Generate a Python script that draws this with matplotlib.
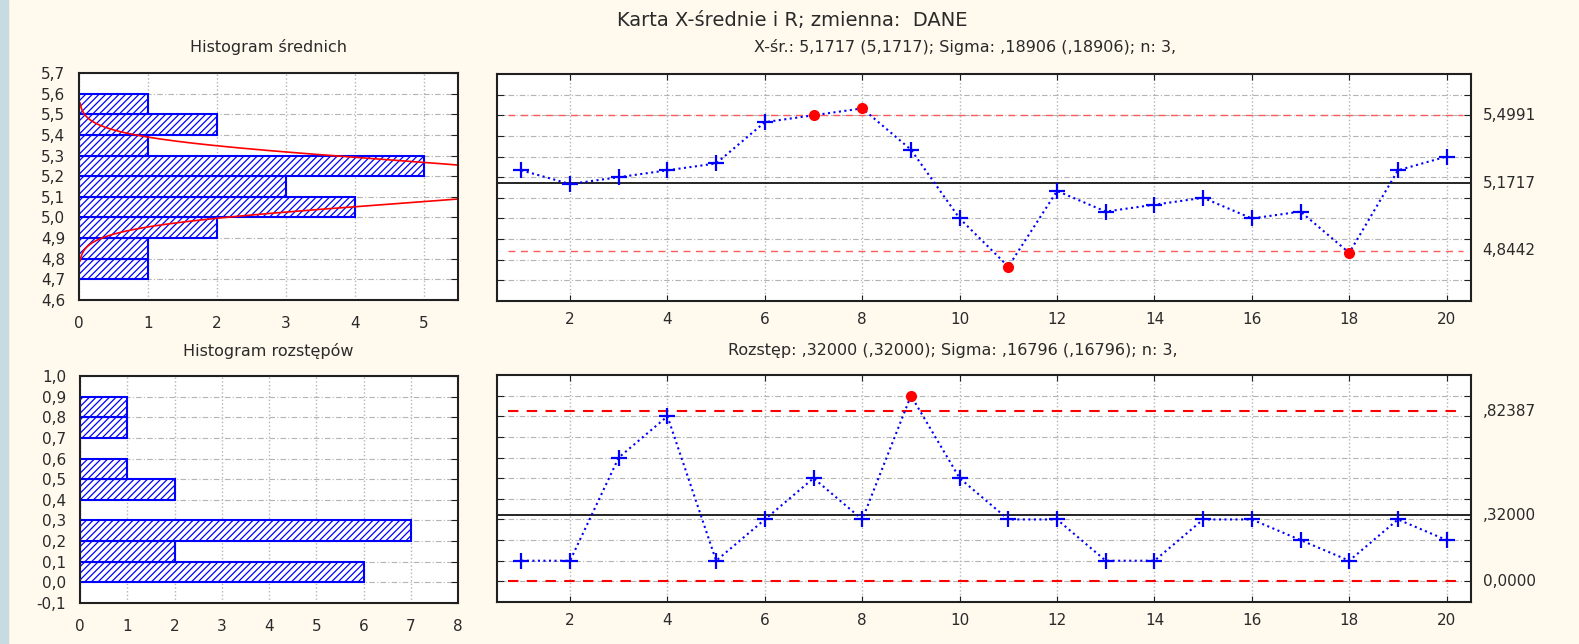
import numpy as np
import matplotlib.pyplot as plt
from matplotlib.ticker import MultipleLocator, FuncFormatter, FixedLocator
from matplotlib.patches import Rectangle

plt.rcParams['font.family'] = ['DejaVu Sans']
plt.rcParams['hatch.linewidth'] = 0.9

# ---- dane ----
samples = np.arange(1, 21)
means = [5.2333, 5.1667, 5.2, 5.2333, 5.2667, 5.4667, 5.5, 5.5333, 5.3333, 5.0,
         4.7667, 5.1333, 5.0333, 5.0667, 5.1, 5.0, 5.0333, 4.8333, 5.2333, 5.3]
ranges = [0.1, 0.1, 0.6, 0.8, 0.1, 0.3, 0.5, 0.3, 0.9, 0.5,
          0.3, 0.3, 0.1, 0.1, 0.3, 0.3, 0.2, 0.1, 0.3, 0.2]

mean_bin_lo = [4.7, 4.8, 4.9, 5.0, 5.1, 5.2, 5.3, 5.4, 5.5]
mean_counts = [1, 1, 2, 4, 3, 5, 1, 2, 1]
range_bin_lo = [0.0, 0.1, 0.2, 0.3, 0.4, 0.5, 0.6, 0.7, 0.8]
range_counts = [6, 2, 7, 0, 2, 1, 0, 1, 1]

x_center, x_ucl, x_lcl = 5.1717, 5.4991, 4.8442
x_sigma, n_sub = 0.18906, 3
r_center, r_ucl, r_lcl = 0.32, 0.82387, 0.0
x_limit_labels = ['5,4991', '5,1717', '4,8442']
r_limit_labels = [',82387', ',32000', '0,0000']

title = 'Karta X-średnie i R; zmienna:  DANE'
x_title = 'X-śr.: 5,1717 (5,1717); Sigma: ,18906 (,18906); n: 3,'
r_title = 'Rozstęp: ,32000 (,32000); Sigma: ,16796 (,16796); n: 3,'

W, H = 1579, 644
BLUE = '#0000ff'
GRID = '#b4b4b4'
TXT = '#2a2a2a'


def box(l, t, r, b):
    return [l / W, 1 - b / H, (r - l) / W, (b - t) / H]


def comma(v, pos):
    return f'{round(v, 1) + 0.0:.1f}'.replace('.', ',')


def style(ax):
    ax.set_facecolor('white')
    for s in ax.spines.values():
        s.set_color('#202020')
        s.set_linewidth(1.5)
    ax.grid(True, axis='y', color=GRID, linestyle=(0, (5, 2, 1, 2)), linewidth=0.8)
    ax.grid(True, axis='x', color=GRID, linestyle=':', linewidth=1.0)
    ax.set_axisbelow(True)
    ax.tick_params(labelsize=11, colors='#202020', labelcolor=TXT)


def control_chart(ax, vals, limits, labels, lim_color, lim_lw):
    vals = np.array(vals)
    ucl, center, lcl = limits
    out = (vals > ucl) | (vals < lcl)
    ax.axhline(center, color='black', lw=1.2, zorder=2)
    for lim in (ucl, lcl):
        ax.axhline(lim, xmin=0.011, xmax=0.992, color=lim_color, lw=lim_lw,
                   linestyle=(0, (5, 4)), zorder=2)
    ax.plot(samples, vals, color=BLUE, linestyle=':', lw=1.5, marker='+',
            ms=11, mew=1.6, markevery=list(np.where(~out)[0]), zorder=3)
    ax.plot(samples[out], vals[out], 'o', color='red', ms=7, zorder=4)
    for val, lab in zip(limits, labels):
        ax.text(1.012, val, lab, transform=ax.get_yaxis_transform(), fontsize=11,
                color=TXT, va='center', ha='left')
    ax.set_xlim(0.5, 20.5)
    ax.xaxis.set_major_locator(FixedLocator(np.arange(2, 21, 2)))
    ax.tick_params(axis='y', left=True, right=True, direction='in', length=5, labelleft=False)
    ax.tick_params(axis='x', top=True, bottom=True, direction='in', length=4, pad=8)


def histogram(ax, lo, counts):
    ax.barh(lo, counts, height=0.1, align='edge', color='white',
            edgecolor=BLUE, hatch='/////', linewidth=1.5)
    ax.xaxis.set_major_locator(MultipleLocator(1))
    ax.yaxis.set_major_locator(MultipleLocator(0.1))
    ax.yaxis.set_major_formatter(FuncFormatter(comma))
    ax.tick_params(axis='y', left=False, right=True, direction='in', length=5, pad=10)
    ax.tick_params(axis='x', bottom=False, top=False, pad=8)


fig = plt.figure(figsize=(W / 100, H / 100), dpi=100, facecolor='#fff9ee')
fig.patches.append(Rectangle((0, 0), 8 / W, 1, transform=fig.transFigure,
                             color='#c6dbe2', zorder=0))

# ---- histogram srednich ----
ah = fig.add_axes(box(79, 73, 458, 300))
style(ah)
histogram(ah, mean_bin_lo, mean_counts)
sd_m = x_sigma / np.sqrt(n_sub)
yy = np.linspace(x_center - 3.5 * sd_m, x_center + 3.5 * sd_m, 300)
cnt = sum(mean_counts) * 0.1 / (sd_m * np.sqrt(2 * np.pi)) * np.exp(-0.5 * ((yy - x_center) / sd_m) ** 2)
ah.plot(cnt, yy, color='red', lw=1.2)
ah.set_xlim(0, 5.5)
ah.set_ylim(4.6, 5.7)

# ---- karta X ----
ax = fig.add_axes(box(497, 74, 1471, 301))
style(ax)
control_chart(ax, means, (x_ucl, x_center, x_lcl), x_limit_labels, '#ff5a5a', 1.0)
ax.set_ylim(4.6, 5.7)
ax.yaxis.set_major_locator(FixedLocator(np.arange(4.7, 5.65, 0.1)))

# ---- histogram rozstepow ----
bh = fig.add_axes(box(80, 376, 458, 603))
style(bh)
histogram(bh, range_bin_lo, range_counts)
bh.set_xlim(0, 8)
bh.set_ylim(-0.1, 1.0)

# ---- karta R ----
bx = fig.add_axes(box(497, 375, 1471, 602))
style(bx)
control_chart(bx, ranges, (r_ucl, r_center, r_lcl), r_limit_labels, 'red', 1.5)
bx.set_ylim(-0.1, 1.0)
bx.yaxis.set_major_locator(FixedLocator(np.arange(0.0, 0.95, 0.1)))


# ---- tytuly ----
def ftext(x, y, s, size):
    fig.text(x / W, 1 - y / H, s, ha='center', va='center', fontsize=size, color=TXT)


ftext(792, 21, title, 14)
ftext(268, 47, 'Histogram średnich', 11.5)
ftext(965, 47, x_title, 11.5)
ftext(268, 351, 'Histogram rozstępów', 11.5)
ftext(953, 351, r_title, 11.5)

fig.savefig('out.png', dpi=100, facecolor=fig.get_facecolor())
